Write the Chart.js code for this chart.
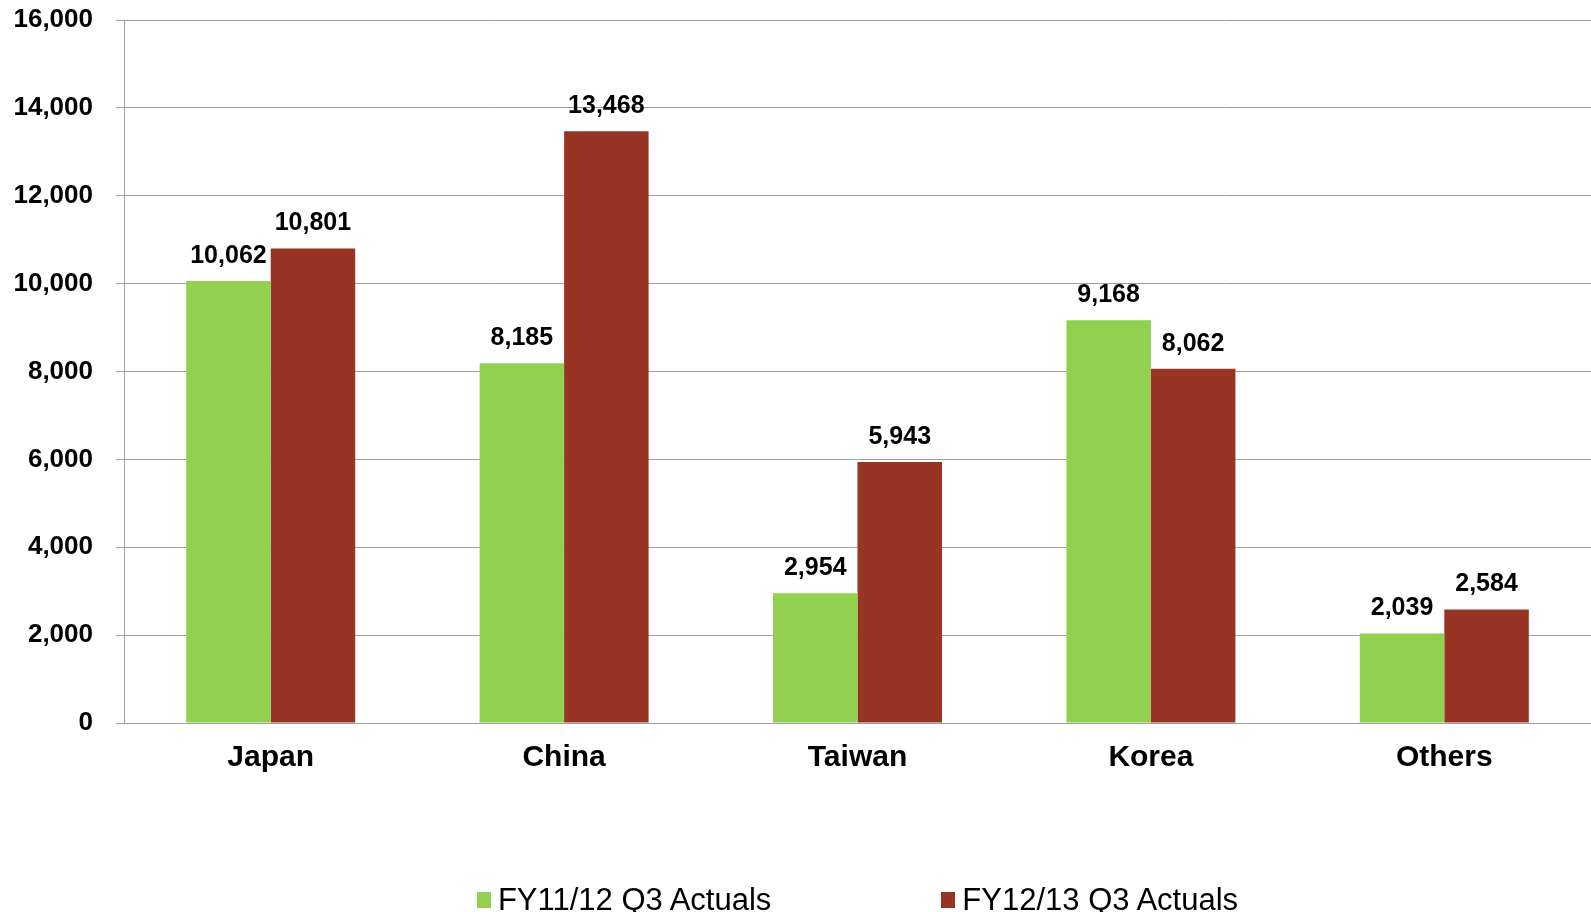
<!DOCTYPE html>
<html>
<head>
<meta charset="utf-8">
<script src="https://cdn.jsdelivr.net/npm/chart.js@4.4.1/dist/chart.umd.min.js"></script>
<style>
  html, body { margin: 0; padding: 0; background: #fff; }
  #wrap { position: relative; width: 1591px; height: 912px; }
  #legend {
    position: absolute; left: 124px; width: 1467px; top: 883px; height: 34px;
    display: flex; justify-content: center; gap: 170px;
    font-family: "Liberation Sans", Arial, sans-serif; font-size: 31px; line-height: 34px; color: #000;
  }
  #legend .item { display: flex; align-items: center; }
  #legend .box { width: 14px; height: 16px; margin-right: 7px; }
</style>
</head>
<body>
<div id="wrap">
  <canvas id="chart" width="1591" height="912"></canvas>
  <div id="legend"></div>
</div>
<script>
const categories = ['Japan', 'China', 'Taiwan', 'Korea', 'Others'];
const seriesNames = ['FY11/12 Q3 Actuals', 'FY12/13 Q3 Actuals'];
const fy1112 = [10062, 8185, 2954, 9168, 2039];
const fy1213 = [10801, 13468, 5943, 8062, 2584];
const colors = ['#92D050', '#983424'];

const FONT = '"Liberation Sans", Arial, sans-serif';
const fmt = v => v.toLocaleString('en-US');

// value labels above each bar
const valueLabels = {
    id: 'valueLabels',
    afterDatasetsDraw(chart) {
        const ctx = chart.ctx;
        ctx.save();
        ctx.font = 'bold 25px ' + FONT;
        ctx.fillStyle = '#000';
        ctx.textAlign = 'center';
        ctx.textBaseline = 'alphabetic';
        chart.data.datasets.forEach((ds, i) => {
            chart.getDatasetMeta(i).data.forEach((bar, j) => {
                ctx.fillText(fmt(ds.data[j]), bar.x, bar.y - 18);
            });
        });
        ctx.restore();
    }
};

const ctx = document.getElementById('chart').getContext('2d');
const chart = new Chart(ctx, {
    type: 'bar',
    data: {
        labels: categories,
        datasets: [
            { label: seriesNames[0], data: fy1112, backgroundColor: colors[0] },
            { label: seriesNames[1], data: fy1213, backgroundColor: colors[1] }
        ]
    },
    options: {
        responsive: false,
        animation: false,
        layout: { padding: { top: 20, left: 0, right: 0, bottom: 0 } },
        datasets: { bar: { categoryPercentage: 0.576, barPercentage: 1.0 } },
        scales: {
            x: {
                grid: { display: false, drawTicks: false },
                border: { display: true, color: '#A0A0A0', width: 1 },
                ticks: { color: '#000', font: { family: FONT, size: 30, weight: 'bold' }, padding: 17 },
                afterFit(scale) { scale.height = 189; }
            },
            y: {
                min: 0,
                max: 16000,
                grid: { color: '#A0A0A0', tickLength: 8, drawTicks: true, tickColor: '#A0A0A0' },
                border: { display: true, color: '#A0A0A0', width: 1 },
                ticks: {
                    stepSize: 2000,
                    color: '#000',
                    padding: 23,
                    font: { family: FONT, size: 26, weight: 'bold' },
                    callback: v => fmt(v)
                },
                afterFit(scale) {
                    scale.width = 124;
                    scale.paddingTop = 0;
                    scale.paddingBottom = 0;
                }
            }
        },
        plugins: {
            legend: { display: false },
            tooltip: { enabled: false }
        }
    },
    plugins: [valueLabels]
});

// html legend built from the chart datasets
const legendEl = document.getElementById('legend');
chart.data.datasets.forEach(ds => {
    const item = document.createElement('div');
    item.className = 'item';
    const box = document.createElement('span');
    box.className = 'box';
    box.style.background = ds.backgroundColor;
    const txt = document.createElement('span');
    txt.textContent = ds.label;
    item.appendChild(box);
    item.appendChild(txt);
    legendEl.appendChild(item);
});
</script>
</body>
</html>
